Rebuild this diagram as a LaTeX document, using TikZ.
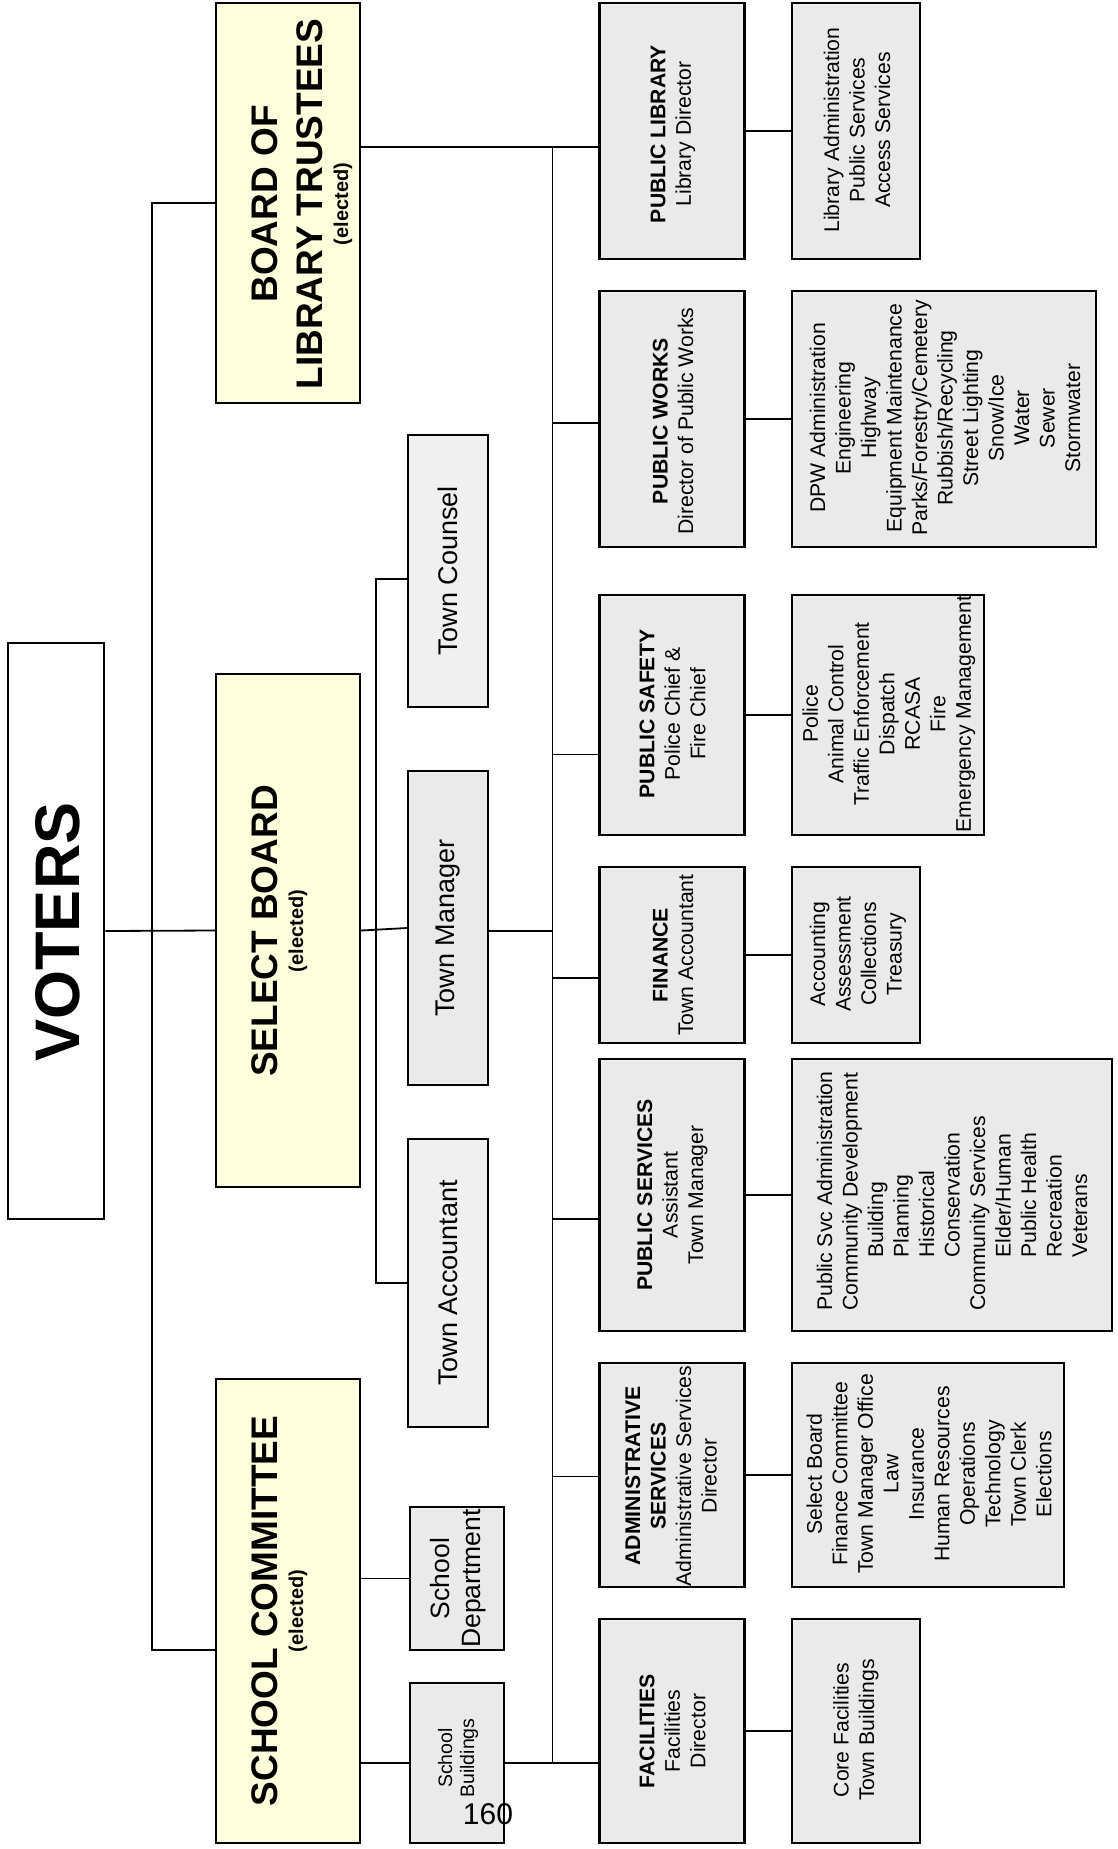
\documentclass[tikz,border=0pt]{standalone}
\usepackage{fontspec}
\setmainfont{Liberation Sans}
\usepackage{graphicx}
\definecolor{yel}{HTML}{FFFFDD}
\definecolor{grayA}{HTML}{EAEAEA}
\definecolor{grayB}{HTML}{F0F0F0}
\begin{document}
\begin{tikzpicture}[x=1pt,y=-1pt,
  ybox/.style={draw=black, line width=2.2pt, fill=yel, inner sep=0pt},
  vbox/.style={draw=black, line width=2.6pt, fill=white, inner sep=0pt},
  dbox/.style={draw=black, line width=2.6pt, fill=grayA, inner sep=0pt},
  mbox/.style={draw=black, line width=1.9pt, inner sep=0pt},
  conn/.style={line width=1.8pt},
  txt/.style={rotate=90, inner sep=0pt, align=center, font=\fontsize{21.2pt}{25.5pt}\selectfont},
  bigtxt/.style={rotate=90, inner sep=0pt, anchor=base, font=\fontsize{37pt}{44pt}\selectfont\bfseries},
  electxt/.style={rotate=90, inner sep=0pt, anchor=base, font=\fontsize{20pt}{24pt}\selectfont\bfseries},
  midtxt/.style={rotate=90, inner sep=0pt, align=center, font=\fontsize{27pt}{31pt}\selectfont}
]
\useasboundingbox (0,0) rectangle (1118,1849);

% ---------- elected boards ----------
\node[vbox, minimum width=96pt, minimum height=576pt] (voters) at (56,931) {};
\node[ybox, minimum width=144pt, minimum height=400pt] (trustees) at (288,203) {};
\node[ybox, minimum width=144pt, minimum height=513pt] (select) at (288,930.5) {};
\node[ybox, minimum width=144pt, minimum height=464pt] (school) at (288,1611) {};

% ---------- middle column ----------
\node[mbox, fill=grayB, minimum width=80pt, minimum height=272pt] (counsel) at (448,571) {};
\node[mbox, fill=grayA, minimum width=80pt, minimum height=314pt] (manager) at (448,928) {};
\node[mbox, fill=grayB, minimum width=80pt, minimum height=288pt] (accountant) at (448,1283) {};
\node[mbox, fill=grayA, minimum width=94pt, minimum height=143pt] (sdept) at (457,1578.5) {};
\node[mbox, fill=grayA, minimum width=94pt, minimum height=160pt] (sbld) at (457,1763) {};

% ---------- departments ----------
\node[dbox, minimum width=144.5pt, minimum height=256pt] (lib) at (672,131) {};
\node[dbox, minimum width=128pt, minimum height=256pt] (libsub) at (856,131) {};
\node[dbox, minimum width=144.5pt, minimum height=256pt] (works) at (672,419) {};
\node[dbox, minimum width=304pt, minimum height=256pt] (workssub) at (944,419) {};
\node[dbox, minimum width=144.5pt, minimum height=240pt] (safety) at (672,715) {};
\node[dbox, minimum width=192pt, minimum height=240pt] (safetysub) at (888,715) {};
\node[dbox, minimum width=144.5pt, minimum height=176pt] (fin) at (672,955) {};
\node[dbox, minimum width=128pt, minimum height=176pt] (finsub) at (856,955) {};
\node[dbox, minimum width=144.5pt, minimum height=272pt] (serv) at (672,1195) {};
\node[dbox, minimum width=320pt, minimum height=272pt] (servsub) at (952,1195) {};
\node[dbox, minimum width=144.5pt, minimum height=224pt] (admin) at (672,1475) {};
\node[dbox, minimum width=272pt, minimum height=224pt] (adminsub) at (928,1475) {};
\node[dbox, minimum width=144.5pt, minimum height=224pt] (fac) at (672,1731) {};
\node[dbox, minimum width=128pt, minimum height=224pt] (facsub) at (856,1731) {};

% ---------- connector points ----------
\coordinate (v-top) at (152,203);
\coordinate (v-bot) at (152,1650);
\coordinate (s-top) at (376,579);
\coordinate (s-bot) at (376,1283);
\coordinate (b-lib) at (552.5,146.7);
\coordinate (b-works) at (552.5,422.7);
\coordinate (b-safety) at (552.5,754.5);
\coordinate (b-tm) at (552.5,930.6);
\coordinate (b-fin) at (552.5,978);
\coordinate (b-serv) at (552.5,1219);
\coordinate (b-admin) at (552.5,1476.5);
\coordinate (b-fac) at (552.5,1763);

% ---------- connectors ----------
\draw[conn] (trustees.west) -- (v-top) -- (v-bot) -- (v-bot -| school.west);
\draw[conn] (voters.east) -- (select.west);
\draw[conn] (select.east) -- (manager.west);
\draw[conn] (s-top -| counsel.west) -- (s-top) -- (s-bot) -- (s-bot -| accountant.west);
\draw[conn] (school.east |- sdept.west) -- (sdept.west);
\draw[conn] (school.east |- sbld.west) -- (sbld.west);
\draw[conn] (sbld.east) -- (sbld.east -| fac.west);
\draw[conn] (b-lib) -- (b-fac);
\draw[conn] (trustees.east |- b-lib) -- (b-lib -| lib.west);
\draw[conn] (b-works) -- (b-works -| works.west);
\draw[conn] (b-safety) -- (b-safety -| safety.west);
\draw[conn] (manager.east |- b-tm) -- (b-tm);
\draw[conn] (b-fin) -- (b-fin -| fin.west);
\draw[conn] (b-serv) -- (b-serv -| serv.west);
\draw[conn] (b-admin) -- (b-admin -| admin.west);
\draw[conn] (lib.east) -- (libsub.west);
\draw[conn] (works.east) -- (workssub.west);
\draw[conn] (safety.east) -- (safetysub.west);
\draw[conn] (fin.east) -- (finsub.west);
\draw[conn] (serv.east) -- (servsub.west);
\draw[conn] (admin.east) -- (adminsub.west);
\draw[conn] (fac.east) -- (facsub.west);

% ---------- texts ----------
\node[rotate=90, inner sep=0pt, font=\fontsize{63pt}{70pt}\selectfont\bfseries] (t-voters) at (58,932) {VOTERS};
\node[bigtxt] (t-tr1) at (277,204) {BOARD OF};
\node[bigtxt] (t-tr2) at (322,204) {LIBRARY TRUSTEES};
\node[electxt] (t-tr3) at (348,204) {(elected)};
\node[bigtxt] (t-sb1) at (277,931) {SELECT BOARD};
\node[electxt] (t-sb2) at (303,931) {(elected)};
\node[bigtxt] (t-sc1) at (277,1611) {SCHOOL COMMITTEE};
\node[electxt] (t-sc2) at (303,1611) {(elected)};

\node[midtxt] (t-counsel) at (counsel.center) {Town Counsel};
\node[midtxt] (t-manager) at (manager.center) {Town Manager};
\node[midtxt] (t-accountant) at (accountant.center) {Town Accountant};
\node[midtxt, font=\fontsize{26.5pt}{31pt}\selectfont] (t-sdept) at (458,1578.5) {School\\Department};
\node[midtxt, font=\fontsize{19.5pt}{22pt}\selectfont] (t-sbld) at (458,1758) {School\\Buildings};

\node[txt] (t-lib) at (673,134) {\textbf{PUBLIC LIBRARY}\\Library Director};
\node[txt] (t-libsub) at (857,130) {Library Administration\\Public Services\\Access Services};
\node[txt] (t-works) at (673,421) {\textbf{PUBLIC WORKS}\\Director of Public Works};
\node[txt] (t-workssub) at (945,418) {DPW Administration\\Engineering\\Highway\\Equipment Maintenance\\Parks/Forestry/Cemetery\\Rubbish/Recycling\\Street Lighting\\Snow/Ice\\Water\\Sewer\\Stormwater};
\node[txt] (t-safety) at (672.5,714) {\textbf{PUBLIC SAFETY}\\Police Chief \&\\Fire Chief};
\node[txt] (t-safetysub) at (889,714) {Police\\Animal Control\\Traffic Enforcement\\Dispatch\\RCASA\\Fire\\Emergency Management};
\node[txt] (t-fin) at (673,955) {\textbf{FINANCE}\\Town Accountant};
\node[txt] (t-finsub) at (858,954) {Accounting\\Assessment\\Collections\\Treasury};
\node[txt] (t-serv) at (672.5,1195) {\textbf{PUBLIC SERVICES}\\Assistant\\Town Manager};
\node[txt, align=left] (t-servsub) at (952,1191) {Public Svc Administration\\Community Development\\\hspace*{53pt}Building\\\hspace*{53pt}Planning\\\hspace*{53pt}Historical\\\hspace*{53pt}Conservation\\Community Services\\\hspace*{53pt}Elder/Human\\\hspace*{53pt}Public Health\\\hspace*{53pt}Recreation\\\hspace*{53pt}Veterans};
\node[txt] (t-admin) at (671,1476) {\textbf{ADMINISTRATIVE}\\\textbf{SERVICES}\\Administrative Services\\Director};
\node[txt] (t-adminsub) at (929,1474) {Select Board\\Finance Committee\\Town Manager Office\\Law\\Insurance\\Human Resources\\Operations\\Technology\\Town Clerk\\Elections};
\node[txt] (t-fac) at (672.5,1731) {\textbf{FACILITIES}\\Facilities\\Director};
\node[txt] (t-facsub) at (856,1730) {Core Facilities\\Town Buildings};

\node[inner sep=0pt, anchor=base, font=\fontsize{30pt}{36pt}\selectfont] (pagenum) at (488,1824) {160};
\end{tikzpicture}
\end{document}
